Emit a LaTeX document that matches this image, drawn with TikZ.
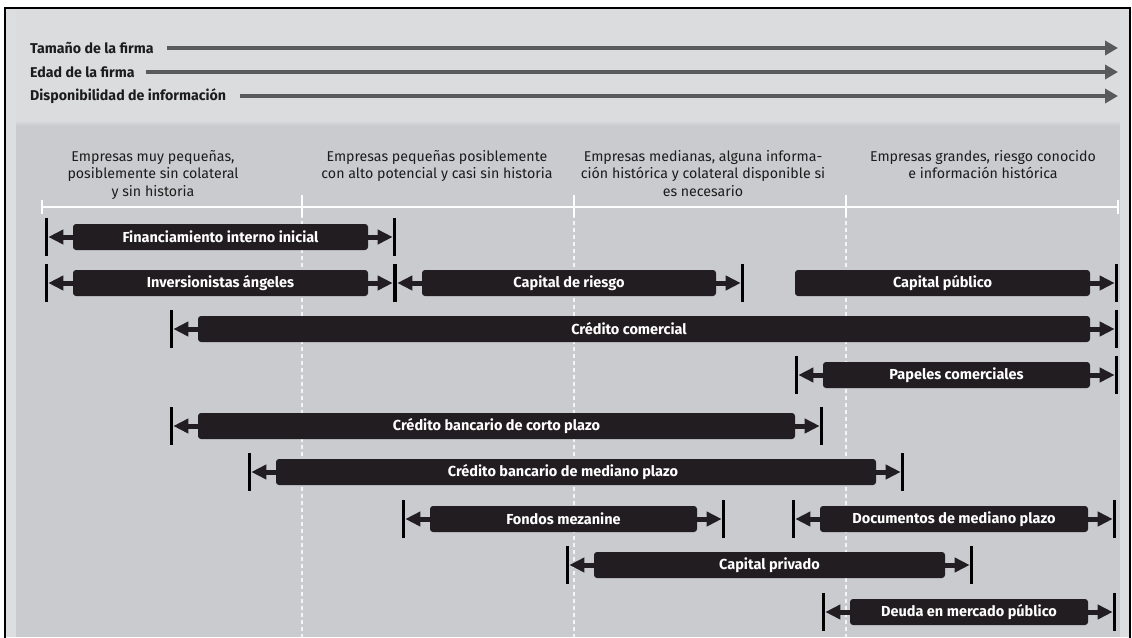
\documentclass[tikz,border=0pt]{standalone}
\usepackage{fontspec}
\setmainfont{Fira Sans}
\usetikzlibrary{arrows.meta,calc}

\definecolor{framegray}{HTML}{DDDEE0}
\definecolor{headgray}{HTML}{DBDCDE}
\definecolor{panelgray}{HTML}{C9CBCE}
\definecolor{barfill}{HTML}{221D20}
\definecolor{axisgray}{HTML}{5A5A5A}
\definecolor{ink}{HTML}{1C1C1C}

\tikzset{
  barbox/.style={fill=barfill, rounded corners=3pt, minimum height=26pt,
    inner sep=0pt, text=white, font=\fontsize{14.5}{16}\selectfont\bfseries},
  endstop/.style={draw=black, line width=3pt},
  gaparrow/.style={draw=barfill, line width=5pt,
    -{Triangle[length=15pt,width=14pt]}, shorten >=1.5pt},
  headlabel/.style={anchor=west, inner sep=0pt, text=ink,
    font=\fontsize{14.2}{16}\selectfont\bfseries},
  headarrow/.style={draw=axisgray, line width=3.5pt,
    -{Triangle[length=13pt,width=14pt]}},
  category/.style={align=center, inner sep=0pt, anchor=north, text=ink,
    font=\fontsize{14.2}{17.5}\selectfont},
  timeline/.style={draw=white, line width=1.5pt},
  divider/.style={draw=white, line width=1.2pt, dash pattern=on 4pt off 3pt,
    opacity=0.8}
}

% a financing instrument: named box between its two edges
\newcommand\finbar[5]{%
  \node[barbox, minimum width={#4-#3}] (#1) at ({(#3+#4)/2},#2) {#5};}
% stop bar and arrow on the left side of a box
\newcommand\capleft[1]{%
  \coordinate (#1-l) at ([xshift=-26pt]#1.west);
  \draw[endstop] ([yshift=19pt]#1-l) -- ([yshift=-19pt]#1-l);
  \draw[gaparrow] (#1.west) -- (#1-l);}
% stop bar and arrow on the right side of a box
\newcommand\capright[1]{%
  \coordinate (#1-r) at ([xshift=26pt]#1.east);
  \draw[endstop] ([yshift=19pt]#1-r) -- ([yshift=-19pt]#1-r);
  \draw[gaparrow] (#1.east) -- (#1-r);}

\begin{document}
\begin{tikzpicture}[x=1pt, y=-1pt]
\useasboundingbox (0,0) rectangle (1132,637);

% background and frame
\fill[white] (0,0) rectangle (1132,637);
\fill[framegray] (5,8) rectangle (1130,637);
\fill[headgray] (16,9) rectangle (1120,124);
\fill[panelgray] (16,124) rectangle (1120,637);
\fill[black!18, opacity=0.5] (16,122) rectangle (1120,126);
\draw[black, line width=1.5pt] (5,640) -- (5,8) -- (1130,8) -- (1130,640);

% header axes
\node[headlabel] (size) at (30,48) {Tamaño de la firma};
\node[headlabel] (age) at (30,72) {Edad de la firma};
\node[headlabel] (info) at (30,96) {Disponibilidad de información};
\coordinate (size-e) at (1118,48);
\coordinate (age-e) at (1118,72);
\coordinate (info-e) at (1118,96);
\draw[headarrow] ([xshift=13pt]size.east) -- (size-e);
\draw[headarrow] ([xshift=11pt]age.east) -- (age-e);
\draw[headarrow] ([xshift=14pt]info.east) -- (info-e);

% firm categories
\node[category] (c1) at (153,150) {Empresas muy pequeñas,\\posiblemente sin colateral\\y sin historia};
\node[category] (c2) at (437,150) {Empresas pequeñas posiblemente\\con alto potencial y casi sin historia};
\node[category] (c3) at (703,150) {Empresas medianas, alguna informa-\\ción histórica y colateral disponible si\\es necesario};
\node[category] (c4) at (983,150) {Empresas grandes, riesgo conocido\\e información histórica};

% timeline with ticks and dashed dividers
\coordinate (t0) at (42,207);
\coordinate (t1) at (302,207);
\coordinate (t2) at (574,207);
\coordinate (t3) at (846,207);
\coordinate (t4) at (1118,207);
\draw[timeline] (t0) -- (t4);
\draw[timeline] ([yshift=7pt]t0) -- ([yshift=-7pt]t0);
\draw[timeline] ([yshift=7pt]t4) -- ([yshift=-7pt]t4);
\foreach \t in {t1,t2,t3}{
  \draw[timeline, line width=1.2pt] ([yshift=12pt]\t) -- ([yshift=-10pt]\t);
  \draw[divider] (\t) -- (\t |- 0,637);
}

% financing instruments
\finbar{fii}{237}{73}{368}{Financiamiento interno inicial}
\capleft{fii}\capright{fii}

\finbar{ang}{283}{73}{368}{Inversionistas ángeles}
\capleft{ang}\capright{ang}
\finbar{rie}{283}{422}{716}{Capital de riesgo}
\capleft{rie}\capright{rie}
\finbar{pub}{283}{795}{1090}{Capital público}
\capright{pub}

\finbar{com}{329}{198}{1090}{Crédito comercial\hspace*{30pt}}
\capleft{com}\capright{com}

\finbar{pap}{375}{823}{1090}{Papeles comerciales}
\capleft{pap}\capright{pap}

\finbar{cor}{426}{198}{795}{Crédito bancario de corto plazo}
\capleft{cor}\capright{cor}

\finbar{med}{472}{276}{876}{Crédito bancario de mediano plazo\hspace*{26pt}}
\capleft{med}\capright{med}

\finbar{mez}{519}{430}{697}{Fondos mezanine}
\capleft{mez}\capright{mez}
\finbar{doc}{519}{820}{1088}{Documentos de mediano plazo}
\capleft{doc}\capright{doc}

\finbar{pri}{565}{594}{945}{Capital privado}
\capleft{pri}\capright{pri}

\finbar{deu}{612}{850}{1088}{Deuda en mercado público}
\capleft{deu}\capright{deu}
\end{tikzpicture}
\end{document}
